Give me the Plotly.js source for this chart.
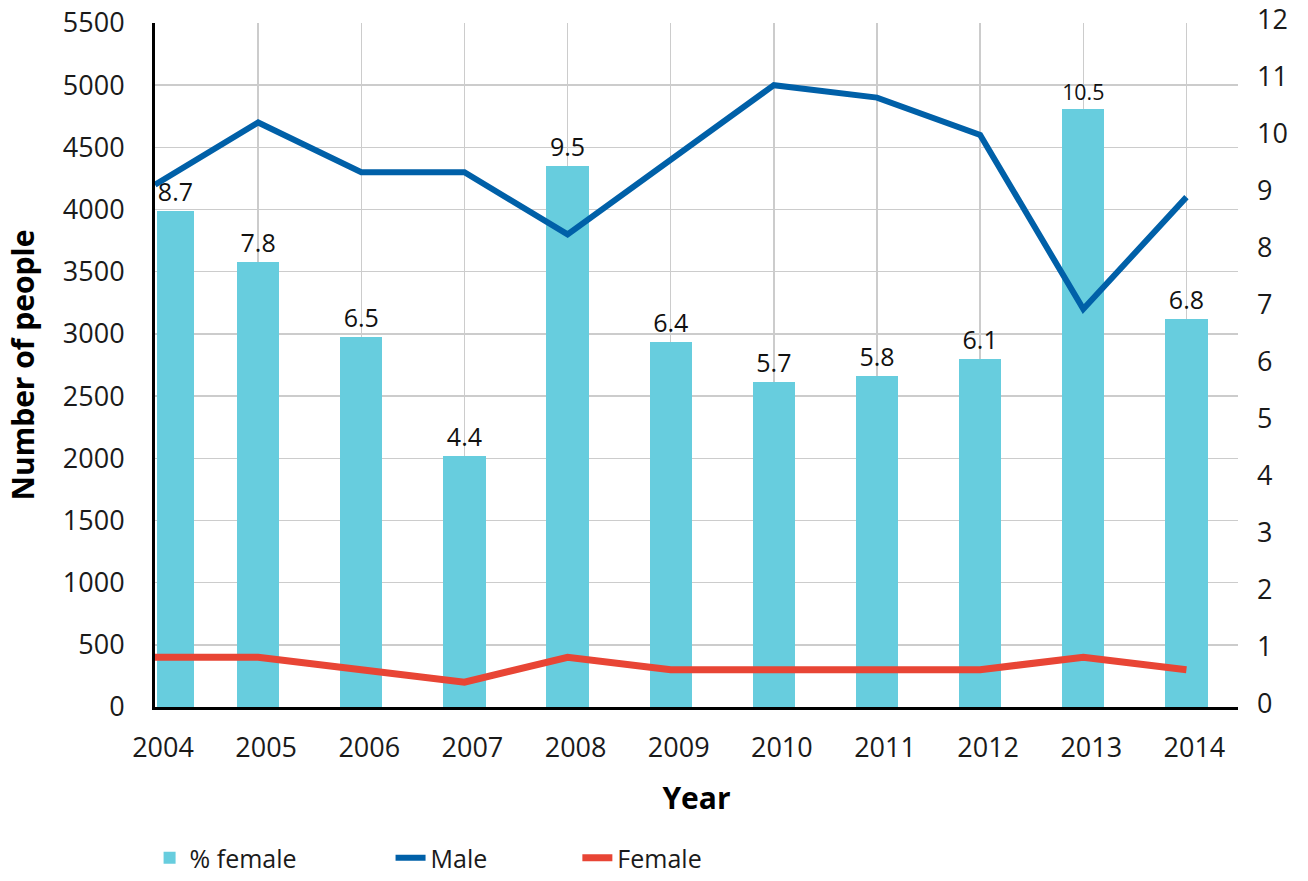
<!DOCTYPE html>
<html>
<head>
<meta charset="utf-8">
<script src="https://cdn.plot.ly/plotly-3.0.1.min.js"></script>
<style>html,body{margin:0;padding:0;background:#fff;}#chart{width:1308px;height:881px;}</style>
</head>
<body>
<div id="chart"></div>
<script>
var years = [2004, 2005, 2006, 2007, 2008, 2009, 2010, 2011, 2012, 2013, 2014];
var yearLabels = ['2004', '2005', '2006', '2007', '2008', '2009', '2010', '2011', '2012', '2013', '2014'];
var pctFemale = [8.7, 7.8, 6.5, 4.4, 9.5, 6.4, 5.7, 5.8, 6.1, 10.5, 6.8];
var male = [4200, 4700, 4300, 4300, 3800, 4400, 5000, 4900, 4600, 3200, 4100];
var female = [400, 400, 300, 200, 400, 300, 300, 300, 300, 400, 300];
var leftTicks = [0, 500, 1000, 1500, 2000, 2500, 3000, 3500, 4000, 4500, 5000, 5500];
var rightTicks = [0, 1, 2, 3, 4, 5, 6, 7, 8, 9, 10, 11, 12];

var FONT = 'Open Sans, Noto Sans, sans-serif';

// bar geometry (style): first bar sits inside the plot edge
var barWidth = years.map(function (y, i) { return i === 0 ? 0.36 : 0.41; });
var barOffset = years.map(function (y, i) { return i === 0 ? 0.018 : -0.205; });

var traces = [
  {
    type: 'bar', name: '% female', x: years, y: pctFemale, yaxis: 'y', legend: 'legend',
    width: barWidth, offset: barOffset,
    marker: {color: '#67CDDE'},
    text: pctFemale.map(function (v) { return v.toFixed(1); }),
    textposition: 'outside', cliponaxis: false,
    textfont: {family: FONT, size: 25, color: '#111'},
    hoverinfo: 'skip'
  },
  {
    type: 'scatter', mode: 'lines', name: 'Male', x: years, y: male, yaxis: 'y2', legend: 'legend2',
    line: {color: '#0060A8', width: 6}, cliponaxis: false
  },
  {
    type: 'scatter', mode: 'lines', name: 'Female', x: years, y: female, yaxis: 'y2', legend: 'legend3',
    line: {color: '#E84535', width: 7}, cliponaxis: false
  }
];

function legendAt(xp) {
  return {
    orientation: 'h', x: xp, xanchor: 'left', xref: 'paper',
    y: 0, yanchor: 'bottom', yref: 'container',
    font: {family: FONT, size: 25, color: '#1a1a1a'},
    bgcolor: 'rgba(0,0,0,0)'
  };
}

var layout = {
  width: 1308, height: 881,
  margin: {l: 155, r: 70, t: 23, b: 174},
  paper_bgcolor: '#fff', plot_bgcolor: '#fff',
  font: {family: FONT, size: 27, color: '#1a1a1a'},
  showlegend: true,
  legend: legendAt(-0.005),
  legend2: legendAt(0.2175),
  legend3: legendAt(0.39),
  bargap: 0,
  xaxis: {
    type: 'linear', range: [2004, 2014.5], automargin: false,
    tickmode: 'array', tickvals: years, ticktext: yearLabels,
    showgrid: true, gridcolor: '#cccccc', gridwidth: 1.5,
    showline: true, linecolor: '#000', linewidth: 3,
    zeroline: false, ticks: '',
    ticklabelshift: 8, ticklabelstandoff: 15,
    tickfont: {family: FONT, size: 27, color: '#1a1a1a'},
    title: {text: 'Year', font: {family: FONT, size: 30, color: '#000', weight: 'bold'}, standoff: 24}
  },
  yaxis: {
    range: [0, 12], side: 'right', automargin: false,
    tickmode: 'array', tickvals: rightTicks,
    showgrid: false, zeroline: false, showline: false, ticks: '',
    ticklabelshift: -3, ticklabelstandoff: 18, ticklabeloverflow: 'allow',
    tickfont: {family: FONT, size: 27, color: '#1a1a1a'}
  },
  yaxis2: {
    range: [0, 5500], side: 'left', overlaying: 'y', automargin: false,
    tickmode: 'array', tickvals: leftTicks,
    showgrid: true, gridcolor: '#cccccc', gridwidth: 1.5,
    zeroline: false, showline: true, linecolor: '#000', linewidth: 3, ticks: '',
    ticklabelstandoff: 22,
    tickfont: {family: FONT, size: 27, color: '#1a1a1a'},
    title: {text: 'Number of people', font: {family: FONT, size: 30, color: '#000', weight: 'bold'}, standoff: 20}
  }
};

Plotly.newPlot('chart', traces, layout, {displayModeBar: false, staticPlot: true});
</script>
</body>
</html>
